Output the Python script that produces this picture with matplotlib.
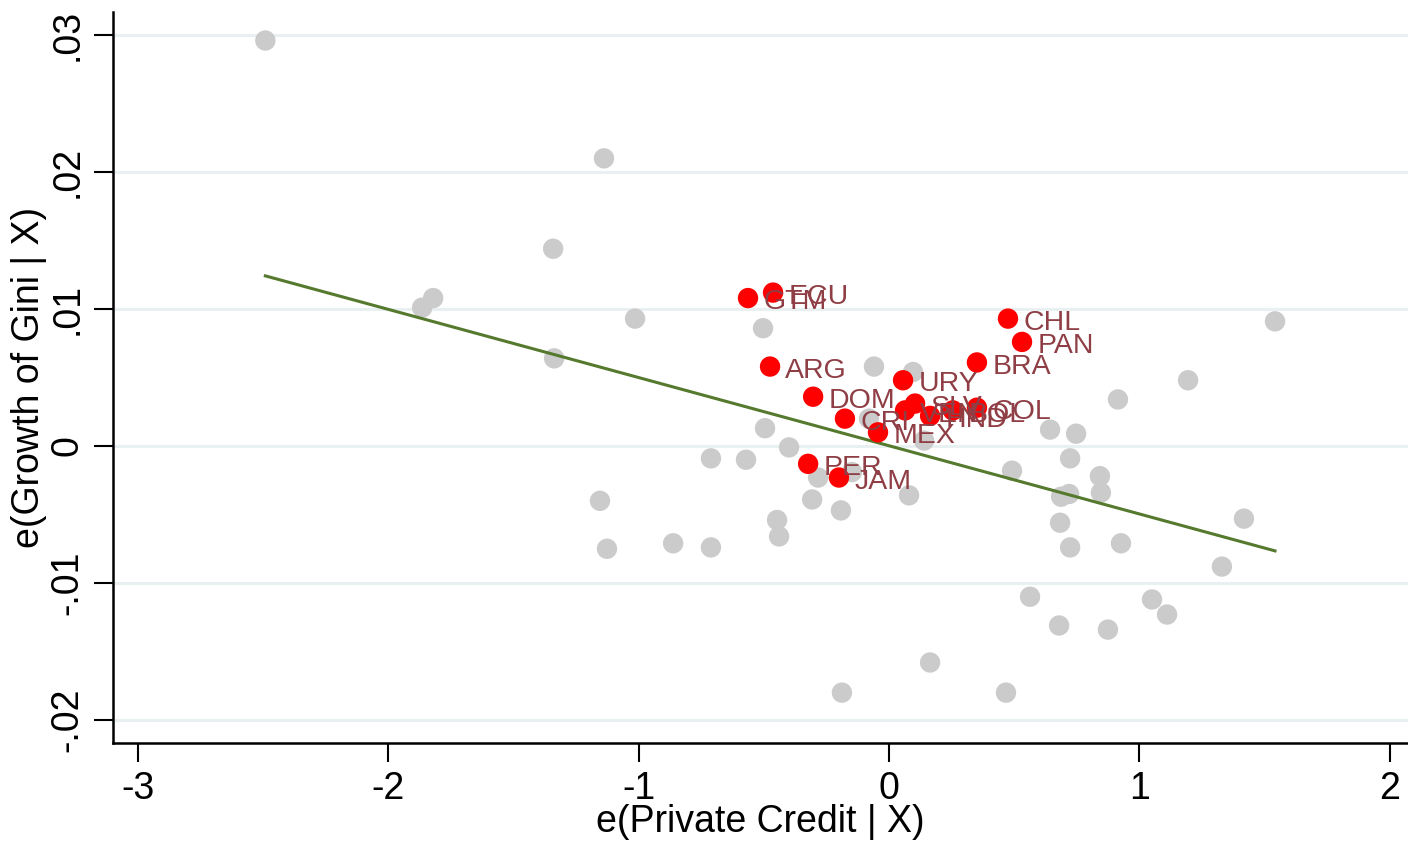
import matplotlib
matplotlib.use("Agg")
import matplotlib.pyplot as plt
import numpy as np

# Other countries (gray)
gray_x = [-2.49, -1.138, -1.341, -1.82, -1.864, -1.014, -1.337, -0.503, -0.06, 0.096,
          -0.495, -0.399, -0.08, 0.14, -0.711, -0.571, -0.283, -1.154, -0.307, -0.447,
          -1.126, -0.862, -0.711, -0.439, -0.192, 0.08, -0.188, 0.164, 0.467, 0.491,
          0.643, 0.747, 0.723, 0.687, 0.719, 0.683, 0.723, 0.842, 0.846, 0.914,
          0.926, 0.563, 0.679, 0.874, 1.05, 1.11, 1.194, 1.329, 1.417, 1.541, -0.148]
gray_y = [0.0296, 0.0210, 0.0144, 0.0108, 0.0101, 0.0093, 0.0064, 0.0086, 0.0058, 0.0054,
          0.0013, -0.0001, 0.0020, 0.0004, -0.0009, -0.0010, -0.0023, -0.0040, -0.0039, -0.0054,
          -0.0075, -0.0071, -0.0074, -0.0066, -0.0047, -0.0036, -0.0180, -0.0158, -0.0180, -0.0018,
          0.0012, 0.0009, -0.0009, -0.0037, -0.0035, -0.0056, -0.0074, -0.0022, -0.0034, 0.0034,
          -0.0071, -0.0110, -0.0131, -0.0134, -0.0112, -0.0123, 0.0048, -0.0088, -0.0053, 0.0091, -0.0019]

# Latin American countries (red, labelled)
lat_names = ["ECU", "GTM", "ARG", "DOM", "CRI", "MEX", "URY", "SLV", "VEN", "HND",
             "BOL", "COL", "BRA", "CHL", "PAN", "PER", "JAM"]
lat_x = [-0.463, -0.563, -0.475, -0.303, -0.176, -0.044, 0.056, 0.104, 0.064, 0.164,
         0.255, 0.351, 0.351, 0.475, 0.531, -0.323, -0.200]
lat_y = [0.0112, 0.0108, 0.0058, 0.0036, 0.0020, 0.0010, 0.0048, 0.0031, 0.0026, 0.0022,
         0.0026, 0.0028, 0.0061, 0.0093, 0.0076, -0.0013, -0.0023]

# Fitted line: intercept, slope
fit_intercept = 0.00002
fit_slope = -0.00498

yticks = [-0.02, -0.01, 0.0, 0.01, 0.02, 0.03]
ytick_labels = ["-.02", "-.01", "0", ".01", ".02", ".03"]
xticks = [-3, -2, -1, 0, 1, 2]
xtick_labels = ["-3", "-2", "-1", "0", "1", "2"]

plt.rcParams['font.family'] = ['Liberation Sans', 'DejaVu Sans']

fig = plt.figure(figsize=(14.08, 8.46), dpi=100)
ax = fig.add_axes([0.0803, 0.1217, 0.9197, 0.8641])

for yt in yticks:
    ax.axhline(yt, color="#E8F0F2", lw=2.2, zorder=0)

ax.scatter(gray_x, gray_y, s=215, color="#CBCBCB", edgecolors="none", zorder=2)

all_x = np.array(gray_x + lat_x)
xs = np.array([all_x.min(), all_x.max()])
ax.plot(xs, fit_intercept + fit_slope * xs, color="#557A2E", lw=2.2, zorder=3)

ax.scatter(lat_x, lat_y, s=215, color="#FF0000", edgecolors="none", zorder=4)
for n, x, y in zip(lat_names, lat_x, lat_y):
    ax.annotate(n, (x, y), xytext=(11, -3), textcoords="offset points",
                ha="left", va="center", fontsize=20.5, color="#8E3E44", zorder=5)

ax.set_xlim(-3.098, 2.072)
ax.set_ylim(-0.02168, 0.03168)
ax.set_yticks(yticks)
ax.set_yticklabels(ytick_labels, rotation=90, va="center")
ax.set_xticks(xticks)
ax.set_xticklabels(xtick_labels)
ax.tick_params(axis="both", direction="out", length=14, width=1.5, labelsize=27, pad=6)
ax.set_xlabel("e(Private Credit | X)", fontsize=27, labelpad=-2)
ax.set_ylabel("e(Growth of Gini | X)", fontsize=27, labelpad=2)

for s in ["top", "right"]:
    ax.spines[s].set_visible(False)
for s in ["left", "bottom"]:
    ax.spines[s].set_linewidth(1.8)

fig.savefig("out.png", dpi=100)
